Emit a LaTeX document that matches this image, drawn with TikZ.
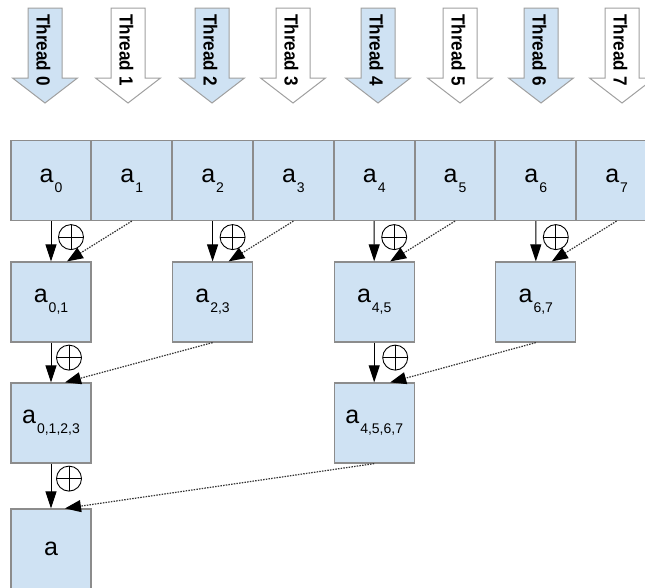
\documentclass[tikz,border=0pt]{standalone}
\usepackage{fontspec}
\setmainfont{Liberation Sans}
\usetikzlibrary{arrows.meta}

\definecolor{cellblue}{HTML}{CFE2F3}
\definecolor{cellline}{HTML}{8C8C8C}
\definecolor{threadline}{HTML}{A0A0A0}
\definecolor{partgray}{HTML}{333333}

% element label: a with a lowered index
\newcommand{\elem}[1]{a\kern1pt\raisebox{-10pt}{\fontsize{14}{14}\selectfont #1}}

\begin{document}
\begin{tikzpicture}[x=1pt, y=-1pt,
    cell/.style={draw=cellline, fill=cellblue, line width=1.2pt, minimum size=80pt, inner sep=0pt,
        font=\fontsize{25}{25}\selectfont},
    thread/.style={draw=threadline, line width=1pt},
    threadtext/.style={rotate=-90, xscale=0.9, inner sep=0pt, font=\fontsize{19}{19}\selectfont\bfseries},
    sumline/.style={draw=black, line width=1pt, -{Triangle[length=17pt, width=11pt]}},
    partline/.style={draw=partgray, line width=1.2pt, dash pattern=on 1.5pt off 1.2pt,
        -{Triangle[length=16pt, width=12pt, black]}},
    plusop/.style={draw=black, circle, line width=0.9pt, minimum size=25pt, inner sep=0pt,
        path picture={\draw[line width=0.9pt] (path picture bounding box.north) -- (path picture bounding box.south)
            (path picture bounding box.west) -- (path picture bounding box.east);}}]
    \useasboundingbox (0,0) rectangle (645,587);

    % threads
    \foreach \i/\xc/\col in {0/45/cellblue, 1/128/white, 2/212/cellblue, 3/293/white,
                             4/378/cellblue, 5/460/white, 6/541/cellblue, 7/622/white} {
        \draw[thread, fill=\col] (\xc-17,8) -- ++(34,0) -- ++(0,70) -- ++(15.5,0) -- ++(-32.5,25)
            -- ++(-32.5,-25) -- ++(15.5,0) -- cycle;
        \node[threadtext] (t\i) at (\xc-1.5,50) {Thread \i};
    }

    % input elements
    \foreach \i in {0,...,7}
        \node[cell] (a\i) at ({51+80.8*\i},180.5) {\elem{\i}};

    % partial sums
    \node[cell] (a01) at (51,302) {\elem{0,1}};
    \node[cell] (a23) at (212.6,302) {\elem{2,3}};
    \node[cell] (a45) at (374.2,302) {\elem{4,5}};
    \node[cell] (a67) at (535.8,302) {\elem{6,7}};
    \node[cell] (a0123) at (51,423) {\elem{0,1,2,3}};
    \node[cell] (a4567) at (374.2,423) {\elem{4,5,6,7}};
    \node[cell] (asum) at (51,549) {a};

    % first step
    \foreach \l/\r/\s in {0/1/01, 2/3/23, 4/5/45, 6/7/67} {
        \draw[sumline] (a\l) -- (a\s);
        \draw[partline] (a\r.south) -- ([xshift=16pt]a\s.north);
        \node[plusop] (p\s) at ([xshift=20pt, yshift=-16pt]a\l.south) {};
    }

    % second step
    \draw[sumline] (a01) -- (a0123);
    \draw[partline] (a23.south) -- ([xshift=14pt]a0123.north);
    \node[plusop] (p0123) at ([xshift=18pt, yshift=-15pt]a01.south) {};
    \draw[sumline] (a45) -- (a4567);
    \draw[partline] (a67.south) -- ([xshift=16pt]a4567.north);
    \node[plusop] (p4567) at ([xshift=21pt, yshift=-15pt]a45.south) {};

    % last step
    \draw[sumline] (a0123) -- (asum);
    \draw[partline] (a4567.south) -- ([xshift=14pt]asum.north);
    \node[plusop] (pall) at ([xshift=18pt, yshift=-15pt]a0123.south) {};
\end{tikzpicture}
\end{document}
